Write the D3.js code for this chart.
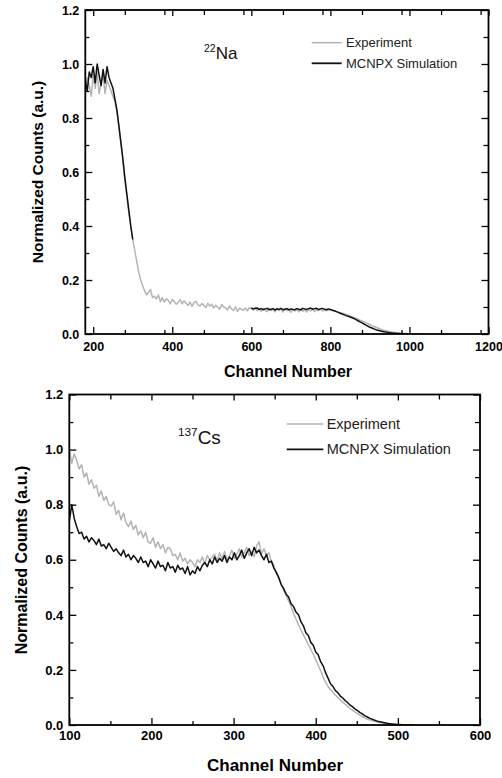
<!DOCTYPE html>
<html>
<head>
<meta charset="utf-8">
<script src="https://cdn.jsdelivr.net/npm/d3@7"></script>
<style>
html,body{margin:0;padding:0;background:#fff;}
svg{display:block;font-family:"Liberation Sans",Arial,sans-serif;}
</style>
</head>
<body>
<svg id="chart" width="502" height="778"></svg>
<script>
// ---------------- DATA ----------------
// 22Na panel: channel grids (start, step) and normalized counts
const naExpStart = 180, naStep = 5;
const naExperiment = [
  0.90,0.95,0.92,0.88,0.96,0.91,0.97,0.89,0.93,0.96,
  0.89,0.94,0.92,0.90,0.88,0.86,0.82,0.77,0.71,0.64,
  0.57,0.51,0.45,0.40,0.35,0.31,0.27,0.23,0.20,0.18,
  0.16,0.145,0.155,0.165,0.135,0.14,0.13,0.145,0.12,0.135,
  0.118,0.13,0.124,0.112,0.128,0.12,0.11,0.118,0.127,0.112,
  0.122,0.114,0.106,0.118,0.102,0.117,0.121,0.108,0.103,0.113,
  0.106,0.098,0.114,0.103,0.11,0.097,0.106,0.099,0.092,0.109,
  0.10,0.097,0.089,0.104,0.093,0.087,0.101,0.083,0.096,0.091,
  0.088,0.096,0.086,0.098,0.093,0.088,0.098,0.086,0.094,0.084,
  0.095,0.088,0.083,0.096,0.086,0.092,0.082,0.095,0.087,0.093,
  0.081,0.094,0.086,0.092,0.08,0.093,0.085,0.091,0.082,0.094,
  0.084,0.09,0.081,0.092,0.085,0.093,0.083,0.09,0.086,0.094,
  0.085,0.09,0.086,0.09,0.088,0.087,0.085,0.083,0.081,0.079,
  0.077,0.075,0.072,0.07,0.067,0.064,0.061,0.058,0.055,0.051,
  0.048,0.045,0.042,0.038,0.035,0.031,0.028,0.025,0.022,0.019,
  0.016,0.014,0.012,0.01,0.008,0.007,0.006,0.005,0.004,0.003,
  0.003,0.002,0.002,0.001,0.001,0.001,0.0,0.0,0.0
];
const naSimPeakStart = 180;
const naSimPeak = [
  0.94,0.90,0.97,0.95,0.99,0.93,1.00,0.96,0.92,0.98,
  0.93,0.99,0.95,0.93,0.91,0.87,0.83,0.77,0.71,0.65,
  0.58,0.52,0.46,0.40,0.35
];
const naSimEdgeStart = 600;
const naSimEdge = [
  0.097,0.093,0.095,0.096,0.091,0.094,0.09,0.093,0.095,0.09,
  0.092,0.094,0.089,0.093,0.091,0.095,0.09,0.092,0.094,0.089,
  0.093,0.091,0.09,0.094,0.092,0.089,0.095,0.093,0.091,0.094,
  0.096,0.092,0.094,0.095,0.091,0.093,0.095,0.092,0.09,0.093,
  0.091,0.088,0.086,0.083,0.08,0.077,0.074,0.071,0.068,0.066,
  0.063,0.06,0.057,0.053,0.049,0.045,0.041,0.037,0.033,0.029,
  0.025,0.022,0.019,0.016,0.014,0.012,0.01,0.008,0.007,0.006,
  0.005,0.004,0.003,0.003,0.002,0.002,0.001,0.001,0.001,0.0,
  0.0
];

// 137Cs panel
const csStart = 100, csStep = 3;
const csExperiment = [
  1.00,0.95,0.985,0.96,0.93,0.945,0.90,0.915,0.875,0.89,
  0.86,0.87,0.83,0.85,0.815,0.83,0.80,0.795,0.81,0.765,
  0.78,0.745,0.77,0.735,0.72,0.74,0.71,0.725,0.69,0.705,
  0.68,0.70,0.665,0.66,0.68,0.645,0.665,0.64,0.655,0.625,
  0.645,0.64,0.615,0.62,0.60,0.625,0.595,0.605,0.585,0.60,
  0.59,0.575,0.60,0.59,0.61,0.585,0.615,0.60,0.61,0.62,
  0.595,0.625,0.605,0.63,0.60,0.615,0.635,0.605,0.62,0.64,
  0.61,0.625,0.645,0.615,0.63,0.61,0.65,0.665,0.62,0.64,
  0.615,0.625,0.595,0.58,0.55,0.535,0.51,0.49,0.47,0.45,
  0.43,0.405,0.385,0.363,0.345,0.327,0.31,0.292,0.275,0.257,
  0.237,0.217,0.197,0.173,0.155,0.14,0.128,0.118,0.108,0.10,
  0.091,0.083,0.075,0.067,0.06,0.053,0.047,0.041,0.035,0.03,
  0.025,0.021,0.018,0.015,0.013,0.011,0.009,0.007,0.006,0.004,
  0.003,0.002,0.002,0.001,0.001,0.0,0.0,0.0,0.0,0.0,
  0.0
];
const csSimulation = [
  0.74,0.80,0.75,0.72,0.695,0.70,0.675,0.685,0.665,0.68,
  0.67,0.655,0.675,0.65,0.655,0.64,0.66,0.645,0.63,0.64,
  0.625,0.615,0.635,0.61,0.62,0.60,0.615,0.605,0.59,0.61,
  0.59,0.595,0.575,0.60,0.585,0.57,0.595,0.575,0.58,0.56,
  0.59,0.57,0.575,0.555,0.58,0.565,0.57,0.55,0.575,0.545,
  0.56,0.55,0.575,0.56,0.58,0.59,0.575,0.60,0.585,0.61,
  0.59,0.605,0.595,0.615,0.59,0.61,0.60,0.625,0.60,0.615,
  0.635,0.605,0.625,0.64,0.615,0.645,0.625,0.635,0.615,0.60,
  0.62,0.59,0.595,0.57,0.555,0.535,0.51,0.495,0.475,0.465,
  0.44,0.43,0.41,0.40,0.375,0.36,0.335,0.325,0.30,0.29,
  0.265,0.255,0.23,0.215,0.19,0.17,0.15,0.14,0.125,0.117,
  0.105,0.098,0.088,0.081,0.072,0.066,0.058,0.052,0.045,0.04,
  0.033,0.029,0.024,0.021,0.017,0.014,0.012,0.01,0.008,0.006,
  0.005,0.004,0.003,0.002,0.002,0.001,0.001,0.0,0.0,0.0,
  0.0
];

const naXTicks = [200,400,600,800,1000,1200];
const csXTicks = [100,200,300,400,500,600];
const yTicks = [0.0,0.2,0.4,0.6,0.8,1.0,1.2];
const seriesNames = ["Experiment","MCNPX Simulation"];
const seriesColors = ["#b4b4b4","#111111"];

// ---------------- DRAWING ----------------
const svg = d3.select("#chart");

function toPoints(start, step, vals){
  return vals.map((v,i)=>({x:start+i*step, y:v}));
}

function panel(cfg){
  const g = svg.append("g");
  const x = d3.scaleLinear().domain(cfg.xDomain).range([cfg.left, cfg.right]);
  const y = d3.scaleLinear().domain([0,1.2]).range([cfg.bottom, cfg.top]);
  const clipId = "clip"+cfg.id;
  svg.append("clipPath").attr("id",clipId).append("rect")
    .attr("x",cfg.left).attr("y",cfg.top)
    .attr("width",cfg.right-cfg.left).attr("height",cfg.bottom-cfg.top);

  const line = d3.line().x(d=>x(d.x)).y(d=>y(d.y));
  const lg = g.append("g").attr("clip-path",`url(#${clipId})`);
  cfg.series.forEach(s=>{
    lg.append("path").datum(s.pts)
      .attr("fill","none").attr("stroke",s.color)
      .attr("stroke-width",1.5).attr("stroke-linejoin","round")
      .attr("d",line);
  });

  const xMinor = d3.range(cfg.xDomain[0], cfg.xDomain[1]+1e-9, cfg.xMinorStep)
    .filter(v=>!cfg.xTicks.includes(v) && v>cfg.xDomain[0]);
  const yMinor = [0.1,0.3,0.5,0.7,0.9,1.1];

  function styleAxis(sel){
    sel.select(".domain").remove();
    sel.selectAll(".tick line").attr("stroke","#000").attr("stroke-width",1.3);
  }
  const bAx = g.append("g").attr("transform",`translate(0,${cfg.bottom})`)
    .call(d3.axisBottom(x).tickValues(cfg.xTicks).tickSize(-7).tickPadding(cfg.xPad)
      .tickFormat(d3.format("d")));
  styleAxis(bAx);
  bAx.selectAll("text").attr("font-size",cfg.tickFont).attr("font-weight","bold").attr("fill","#000");
  styleAxis(g.append("g").attr("transform",`translate(0,${cfg.bottom})`)
    .call(d3.axisBottom(x).tickValues(xMinor).tickSize(-4).tickFormat("")));
  styleAxis(g.append("g").attr("transform",`translate(0,${cfg.top})`)
    .call(d3.axisTop(x).tickValues(cfg.xTicks).tickSize(-6).tickFormat("")));
  styleAxis(g.append("g").attr("transform",`translate(0,${cfg.top})`)
    .call(d3.axisTop(x).tickValues(xMinor).tickSize(-5).tickFormat("")));
  const lAx = g.append("g").attr("transform",`translate(${cfg.left},0)`)
    .call(d3.axisLeft(y).tickValues(yTicks).tickSize(-7).tickPadding(6)
      .tickFormat(d3.format(".1f")));
  styleAxis(lAx);
  lAx.selectAll("text").attr("font-size",cfg.tickFont).attr("font-weight","bold").attr("fill","#000");
  styleAxis(g.append("g").attr("transform",`translate(${cfg.left},0)`)
    .call(d3.axisLeft(y).tickValues(yMinor).tickSize(-4).tickFormat("")));
  styleAxis(g.append("g").attr("transform",`translate(${cfg.right},0)`)
    .call(d3.axisRight(y).tickValues(yTicks).tickSize(-7).tickFormat("")));
  styleAxis(g.append("g").attr("transform",`translate(${cfg.right},0)`)
    .call(d3.axisRight(y).tickValues(yMinor).tickSize(-5).tickFormat("")));

  g.append("rect").attr("x",cfg.left).attr("y",cfg.top)
    .attr("width",cfg.right-cfg.left).attr("height",cfg.bottom-cfg.top)
    .attr("fill","none").attr("stroke","#000").attr("stroke-width",1.8);

  g.append("text").attr("x",cfg.xTitle[0]).attr("y",cfg.xTitle[1])
    .attr("text-anchor","middle").attr("font-size",cfg.titleFont).attr("font-weight","bold")
    .text("Channel Number");
  g.append("text").attr("transform",`translate(${cfg.yTitle[0]},${cfg.yTitle[1]}) rotate(-90)`)
    .attr("text-anchor","middle").attr("font-size",cfg.yTitleFont).attr("font-weight","bold")
    .text("Normalized Counts (a.u.)");

  const iso = g.append("text").attr("x",cfg.iso.x).attr("y",cfg.iso.y)
    .attr("font-size",cfg.iso.size).attr("fill","#111");
  iso.append("tspan").attr("font-size",cfg.iso.size*0.62).attr("dy",-cfg.iso.size*0.42).text(cfg.iso.mass);
  iso.append("tspan").attr("dy",cfg.iso.size*0.42).text(cfg.iso.sym);

  cfg.series.filter(s=>s.name).forEach((s,i)=>{
    const ly = cfg.legend.y[i];
    g.append("line").attr("x1",cfg.legend.x1).attr("x2",cfg.legend.x2)
      .attr("y1",ly).attr("y2",ly).attr("stroke",s.color).attr("stroke-width",i===0?1.5:1.8);
    g.append("text").attr("x",cfg.legend.tx).attr("y",ly+cfg.legend.font*0.33)
      .attr("font-size",cfg.legend.font).attr("fill","#222").text(s.name);
  });
}

panel({
  id:"na", xDomain:[180,1200], left:85.3, right:488.5, top:10, bottom:334,
  xTicks:naXTicks, xMinorStep:100, tickFont:12.5, xPad:8, titleFont:16, yTitleFont:15.5,
  xTitle:[288,377], yTitle:[43,172],
  iso:{x:204,y:59,size:17,mass:"22",sym:"Na"},
  legend:{x1:311.7,x2:341.7,tx:346,y:[42.7,63.3],font:13},
  series:[
    {name:seriesNames[0],color:seriesColors[0],pts:toPoints(naExpStart,naStep,naExperiment)},
    {name:seriesNames[1],color:seriesColors[1],pts:toPoints(naSimPeakStart,naStep,naSimPeak)},
    {name:null,color:seriesColors[1],pts:toPoints(naSimEdgeStart,naStep,naSimEdge)}
  ]
});

panel({
  id:"cs", xDomain:[100,600], left:69.3, right:480, top:394.5, bottom:725,
  xTicks:csXTicks, xMinorStep:50, tickFont:13, xPad:6, titleFont:17, yTitleFont:16,
  xTitle:[275,771], yTitle:[27,560],
  iso:{x:178,y:444,size:19,mass:"137",sym:"Cs"},
  legend:{x1:286.7,x2:323.3,tx:326.7,y:[424,449.3],font:14.5},
  series:[
    {name:seriesNames[0],color:seriesColors[0],pts:toPoints(csStart,csStep,csExperiment)},
    {name:seriesNames[1],color:seriesColors[1],pts:toPoints(csStart,csStep,csSimulation)}
  ]
});
</script>
</body>
</html>
